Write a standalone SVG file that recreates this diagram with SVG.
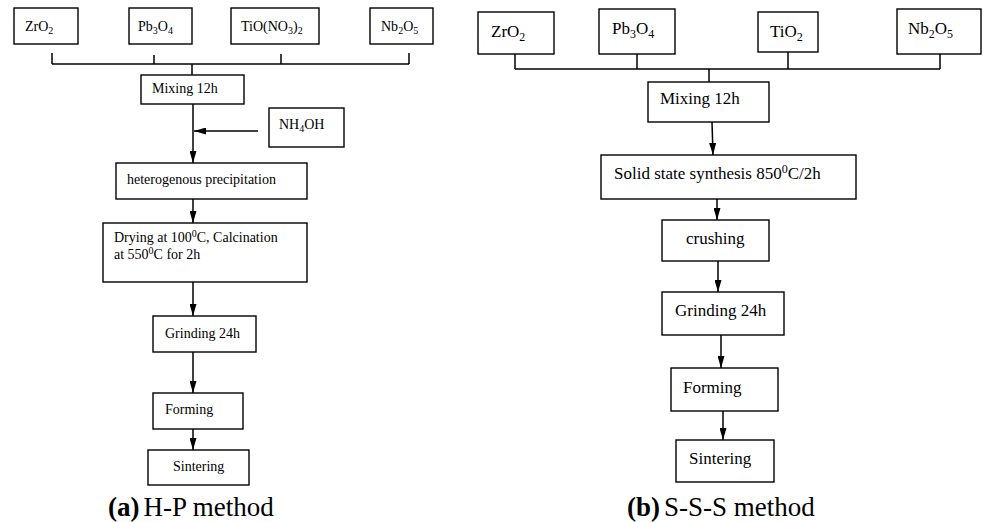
<svg xmlns="http://www.w3.org/2000/svg" width="991" height="522" viewBox="0 0 991 522">
<style>
.box{fill:#fff;stroke:#000;stroke-width:1.4}
.ln{fill:none;stroke:#000;stroke-width:1.5}
.ar{fill:none;stroke:#000;stroke-width:1.5;marker-end:url(#ah)}
text{font-family:"Liberation Serif","Times New Roman",serif;fill:#000}
.s{font-size:14px}
.b{font-size:17px}
.cap{font-size:27px}
</style>
<defs>
<marker id="ah" markerUnits="userSpaceOnUse" markerWidth="12" markerHeight="7" refX="12" refY="3.5" orient="auto">
<path d="M0,0 L12,3.5 L0,7 z" fill="#000"/>
</marker>
</defs>
<rect width="991" height="522" fill="#fff"/>

<g id="connectors">
<!-- left bus -->
<line class="ln" x1="52" y1="64" x2="409" y2="64"/>
<line class="ln" x1="52" y1="53" x2="52" y2="64"/>
<line class="ln" x1="154" y1="55" x2="154" y2="64"/>
<line class="ln" x1="281" y1="54" x2="281" y2="64"/>
<line class="ln" x1="409" y1="53" x2="409" y2="64"/>
<line class="ln" x1="192" y1="64" x2="192" y2="75"/>
<line class="ar" x1="193" y1="104" x2="193" y2="163"/>
<line class="ar" x1="258" y1="131" x2="194" y2="131"/>
<line class="ar" x1="193" y1="199" x2="193" y2="223"/>
<line class="ar" x1="193" y1="282" x2="193" y2="316"/>
<line class="ar" x1="193" y1="352" x2="193" y2="393"/>
<line class="ar" x1="193" y1="429" x2="193" y2="450"/>
<!-- right bus -->
<line class="ln" x1="515" y1="69" x2="940" y2="69"/>
<line class="ln" x1="515" y1="54" x2="515" y2="69"/>
<line class="ln" x1="637" y1="54" x2="637" y2="69"/>
<line class="ln" x1="788" y1="52" x2="788" y2="69"/>
<line class="ln" x1="940" y1="54" x2="940" y2="69"/>
<line class="ln" x1="709" y1="69" x2="709" y2="82"/>
<line class="ar" x1="712" y1="122" x2="713" y2="155"/>
<line class="ar" x1="717" y1="199" x2="717" y2="220"/>
<line class="ar" x1="718" y1="261" x2="718" y2="292"/>
<line class="ar" x1="721" y1="335" x2="721" y2="368"/>
<line class="ar" x1="723" y1="411" x2="723" y2="440"/>
</g>

<!-- left panel -->
<g id="a-zro2"><rect class="box" x="14" y="8" width="64" height="36"/><text class="s" x="25" y="31">ZrO<tspan font-size="10" dy="3">2</tspan></text></g>
<g id="a-pb3o4"><rect class="box" x="129" y="8" width="63" height="36"/><text class="s" x="138" y="31">Pb<tspan font-size="10" dy="3">3</tspan><tspan dy="-3">O</tspan><tspan font-size="10" dy="3">4</tspan></text></g>
<g id="a-tio"><rect class="box" x="231" y="8" width="88" height="36"/><text class="s" x="241" y="31">TiO(NO<tspan font-size="10" dy="3">3</tspan><tspan dy="-3">)</tspan><tspan font-size="10" dy="3">2</tspan></text></g>
<g id="a-nb2o5"><rect class="box" x="370" y="8" width="63" height="36"/><text class="s" x="381" y="31">Nb<tspan font-size="10" dy="3">2</tspan><tspan dy="-3">O</tspan><tspan font-size="10" dy="3">5</tspan></text></g>
<g id="a-mixing"><rect class="box" x="141" y="75" width="103" height="29"/><text class="s" x="152" y="93">Mixing 12h</text></g>
<g id="a-nh4oh"><rect class="box" x="269" y="108" width="75" height="39"/><text class="s" x="279" y="129">NH<tspan font-size="10" dy="3">4</tspan><tspan dy="-3">OH</tspan></text></g>
<g id="a-precip"><rect class="box" x="116" y="163" width="191" height="36"/><text class="s" x="127" y="184">heterogenous precipitation</text></g>
<g id="a-drying"><rect class="box" x="103" y="223" width="204" height="59"/><text class="s" x="114" y="242">Drying at 100<tspan font-size="10" dy="-5">0</tspan><tspan dy="5">C, Calcination</tspan></text><text class="s" x="114" y="259">at 550<tspan font-size="10" dy="-5">0</tspan><tspan dy="5">C for 2h</tspan></text></g>
<g id="a-grinding"><rect class="box" x="153" y="316" width="103" height="36"/><text class="s" x="165" y="338">Grinding 24h</text></g>
<g id="a-forming"><rect class="box" x="153" y="393" width="90" height="36"/><text class="s" x="165" y="414">Forming</text></g>
<g id="a-sintering"><rect class="box" x="148" y="450" width="101" height="35"/><text class="s" x="173" y="471">Sintering</text></g>
<text class="cap" x="108" y="516"><tspan font-weight="bold">(a)</tspan><tspan dx="4">H-P method</tspan></text>

<!-- right panel -->
<g id="b-zro2"><rect class="box" x="478" y="12" width="76" height="42"/><text class="b" x="491" y="37">ZrO<tspan font-size="12" dy="4">2</tspan></text></g>
<g id="b-pb3o4"><rect class="box" x="599" y="9" width="76" height="45"/><text class="b" x="612" y="34">Pb<tspan font-size="12" dy="4">3</tspan><tspan dy="-4">O</tspan><tspan font-size="12" dy="4">4</tspan></text></g>
<g id="b-tio2"><rect class="box" x="758" y="12" width="60" height="40"/><text class="b" x="770" y="37">TiO<tspan font-size="12" dy="4">2</tspan></text></g>
<g id="b-nb2o5"><rect class="box" x="897" y="9" width="84" height="45"/><text class="b" x="908" y="34">Nb<tspan font-size="12" dy="4">2</tspan><tspan dy="-4">O</tspan><tspan font-size="12" dy="4">5</tspan></text></g>
<g id="b-mixing"><rect class="box" x="648" y="82" width="121" height="40"/><text class="b" x="660" y="104">Mixing 12h</text></g>
<g id="b-solid"><rect class="box" x="601" y="155" width="255" height="44"/><text class="b" x="614" y="179">Solid state synthesis 850<tspan font-size="12" dy="-6">0</tspan><tspan dy="6">C/2h</tspan></text></g>
<g id="b-crushing"><rect class="box" x="662" y="220" width="107" height="41"/><text class="b" x="686" y="244">crushing</text></g>
<g id="b-grinding"><rect class="box" x="662" y="292" width="122" height="43"/><text class="b" x="675" y="316">Grinding 24h</text></g>
<g id="b-forming"><rect class="box" x="671" y="368" width="107" height="43"/><text class="b" x="683" y="393">Forming</text></g>
<g id="b-sintering"><rect class="box" x="676" y="440" width="98" height="42"/><text class="b" x="689" y="464">Sintering</text></g>
<text class="cap" x="627" y="516"><tspan font-weight="bold">(b)</tspan><tspan dx="4">S-S-S method</tspan></text>
</svg>
